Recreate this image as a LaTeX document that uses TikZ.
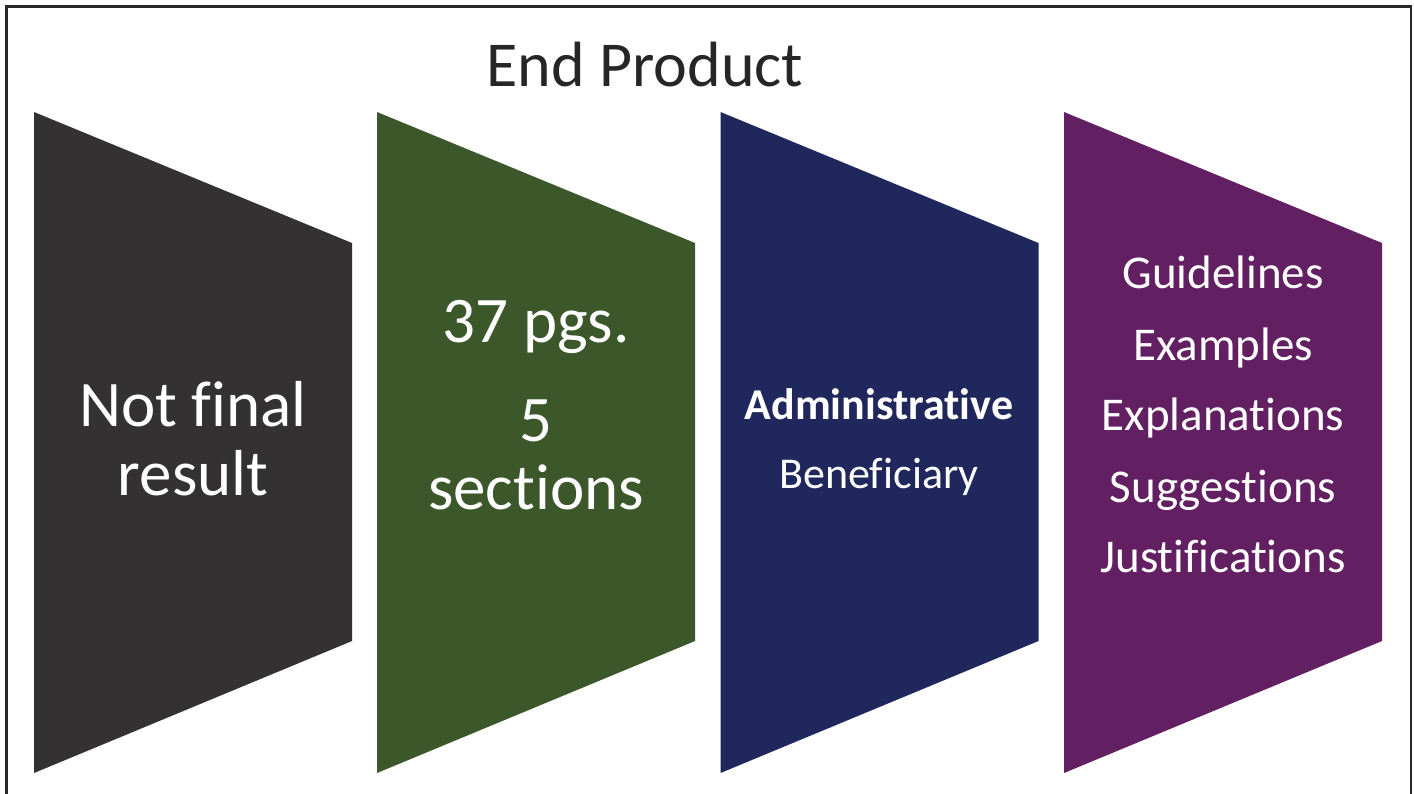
\documentclass[tikz,border=0pt]{standalone}
\usepackage{fontspec}
\setmainfont[Ligatures=NoCommon]{Carlito}
\definecolor{cdark}{RGB}{51,49,50}
\definecolor{cgreen}{RGB}{60,88,42}
\definecolor{cnavy}{RGB}{31,39,92}
\definecolor{cpurple}{RGB}{98,32,98}
\definecolor{cframe}{RGB}{40,40,40}
\tikzset{
  wtext/.style={text=white, anchor=base, inner sep=0pt},
  f65/.style={font=\fontsize{65}{70}\selectfont},
  f44/.style={font=\fontsize{44}{48}\selectfont},
  f47/.style={font=\fontsize{47}{56}\selectfont},
}
\begin{document}
\begin{tikzpicture}[x=1pt,y=-1pt]
\useasboundingbox (0,0) rectangle (1414,793);
\fill[white] (0,0) rectangle (1414,793);
% frame (its bottom lies beyond the picture)
\draw[cframe, line width=2.2pt] (6.5,6.5) -- (1410.8,6.5) -- (1410.8,820) -- (6.5,820) -- cycle;
% title
\node[anchor=base, inner sep=0pt, text=black!85, font=\fontsize{64}{70}\selectfont] (title) at (645,86) {End Product};
% banners
\foreach \x/\c in {34/cdark, 377/cgreen, 720.5/cnavy, 1064/cpurple}{
  \fill[\c] (\x,112) -- ({\x+318},243) -- ({\x+318},641) -- (\x,773) -- cycle;
}
% texts
\node[wtext,f65] (t1a) at (193,426) {Not final};
\node[wtext,f65] (t1b) at (193,495) {result};
\node[wtext,f65] (t2a) at (536,342) {37 pgs.};
\node[wtext,f65] (t2b) at (536,441) {5};
\node[wtext,f65] (t2c) at (536,509) {sections};
\node[wtext,f44] (t3a) at (879,419) {\bfseries Administrative};
\node[wtext,f44] (t3b) at (879,488) {Beneficiary};
\node[wtext,f47] (t4a) at (1223,288) {Guidelines};
\node[wtext,f47] (t4b) at (1223,360) {Examples};
\node[wtext,f47] (t4c) at (1223,430) {Explanations};
\node[wtext,f47] (t4d) at (1223,502) {Suggestions};
\node[wtext,f47] (t4e) at (1223,572) {Justifications};
\end{tikzpicture}
\end{document}
